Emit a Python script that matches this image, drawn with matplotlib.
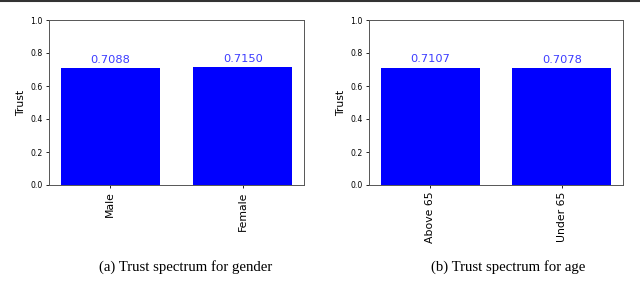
import matplotlib
matplotlib.use("Agg")
from matplotlib import pyplot as plt
from matplotlib.lines import Line2D

# data
gender_cats = ["Male", "Female"]
gender_vals = [0.7088, 0.7150]
age_cats = ["Above 65", "Under 65"]
age_vals = [0.7107, 0.7078]
captions = ["(a) Trust spectrum for gender", "(b) Trust spectrum for age"]

fig = plt.figure(figsize=(6.4, 2.83), dpi=100)
W, H = 640, 283

# axes boxes in pixels (left, top, right, bottom)
boxes = [(49, 20, 304, 185), (369, 20, 623, 185)]
groups = [(gender_cats, gender_vals), (age_cats, age_vals)]
cap_x = [186, 508]

for (l, t, r, b), (cats, vals), cap, cx in zip(boxes, groups, captions, cap_x):
    ax = fig.add_axes([l / W, 1 - b / H, (r - l) / W, (b - t) / H])
    bars = ax.bar(cats, vals, color="blue", width=0.75)
    for rect, v in zip(bars, vals):
        ax.text(rect.get_x() + rect.get_width() / 2, v + 0.02, "%.4f" % v,
                ha="center", va="bottom", color="#3c3cff", fontsize=8.2)
    ax.set_ylim(0, 1.0)
    ax.set_yticks([0, 0.2, 0.4, 0.6, 0.8, 1.0])
    ax.tick_params(axis="y", labelsize=5.6, length=2.5, width=0.6, pad=2)
    ax.tick_params(axis="x", labelsize=7.8, length=2.5, width=0.6, pad=2)
    plt.setp(ax.get_xticklabels(), rotation=90)
    ax.set_ylabel("Trust", fontsize=7.8, labelpad=3)
    for s in ax.spines.values():
        s.set_color("#555555")
        s.set_linewidth(0.7)
    fig.text(cx / W, 1 - 267 / H, cap, ha="center", va="center",
             family="Liberation Serif", fontsize=10.6)

# dark rule at the top of the page
fig.add_artist(Line2D([0, 1], [1 - 0.8 / H, 1 - 0.8 / H], transform=fig.transFigure,
                      color="#333333", linewidth=1.5))

fig.savefig("out.png", dpi=100)
